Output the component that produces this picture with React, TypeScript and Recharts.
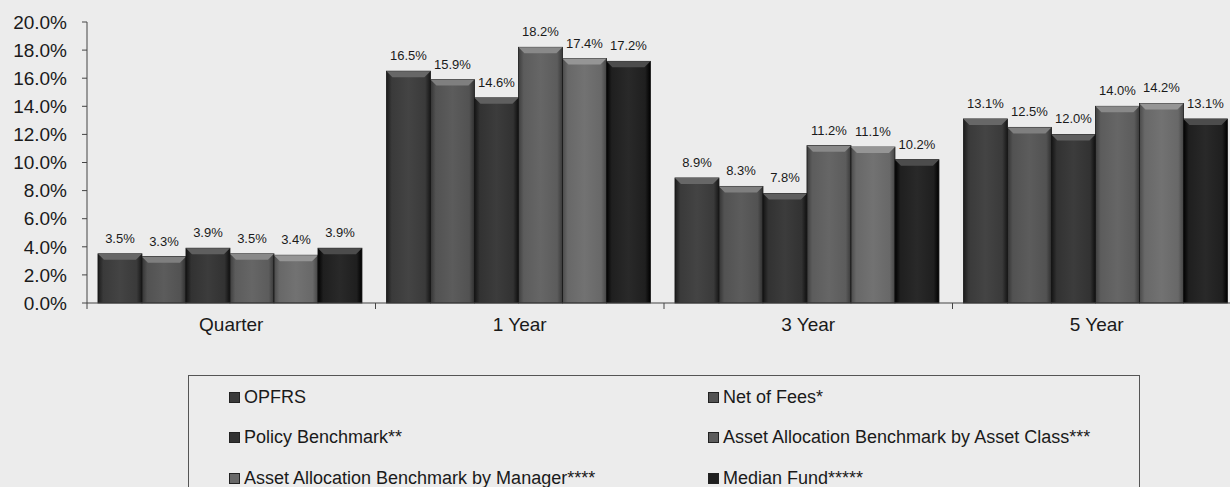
import React from 'react';
import { BarChart, Bar, XAxis, YAxis, LabelList } from 'recharts';

const categories = ['Quarter', '1 Year', '3 Year', '5 Year'];
const seriesNames = [
  'OPFRS',
  'Net of Fees*',
  'Policy Benchmark**',
  'Asset Allocation Benchmark by Asset Class***',
  'Asset Allocation Benchmark by Manager****',
  'Median Fund*****',
];
const opfrs = [3.5, 16.5, 8.9, 13.1];
const netOfFees = [3.3, 15.9, 8.3, 12.5];
const policyBenchmark = [3.9, 14.6, 7.8, 12.0];
const assetClassBenchmark = [3.5, 18.2, 11.2, 14.0];
const managerBenchmark = [3.4, 17.4, 11.1, 14.2];
const medianFund = [3.9, 17.2, 10.2, 13.1];
const yTicks = [0, 2, 4, 6, 8, 10, 12, 14, 16, 18, 20];

const seriesValues = [opfrs, netOfFees, policyBenchmark, assetClassBenchmark, managerBenchmark, medianFund];
const seriesKeys = ['s0', 's1', 's2', 's3', 's4', 's5'];
const colors = ['#3a3a3a', '#525252', '#323232', '#5c5c5c', '#686868', '#1f1f1f'];

const data = categories.map((c, i) => {
  const row: any = { name: c };
  seriesKeys.forEach((k, j) => (row[k] = seriesValues[j][i]));
  return row;
});

const FONT = '"Liberation Sans", Arial, sans-serif';

function shade(hex: string, amt: number) {
  const n = parseInt(hex.slice(1), 16);
  const r = Math.max(0, Math.min(255, ((n >> 16) & 255) + amt));
  const g = Math.max(0, Math.min(255, ((n >> 8) & 255) + amt));
  const b = Math.max(0, Math.min(255, (n & 255) + amt));
  return `rgb(${r},${g},${b})`;
}

const makeShape = (si: number) => (props: any) => {
  const { x, y, width, height, index } = props;
  if (!height || height <= 0) return null;
  const base = colors[si];
  const id = `grad-${si}-${index}`;
  const b = Math.min(6, height / 2);
  return (
    <g>
      <defs>
        <linearGradient id={id} x1="0" y1="0" x2="1" y2="0">
          <stop offset="0%" stopColor={shade(base, -30)} />
          <stop offset="12%" stopColor={base} />
          <stop offset="50%" stopColor={shade(base, 10)} />
          <stop offset="88%" stopColor={base} />
          <stop offset="100%" stopColor={shade(base, -35)} />
        </linearGradient>
      </defs>
      <rect x={x} y={y} width={width} height={height} fill={`url(#${id})`} stroke="#151515" strokeWidth={0.8} />
      <polygon
        points={`${x},${y} ${x + width},${y} ${x + width - b},${y + b} ${x + b},${y + b}`}
        fill={shade(base, 45)}
      />
    </g>
  );
};

const XTick = (props: any) => {
  const { x, y, payload, width } = props;
  const off = payload && payload.offset ? payload.offset : (width || 1154) / (2 * categories.length);
  const isLast = payload && payload.index === categories.length - 1;
  return (
    <g>
      <line x1={x - off} x2={x - off} y1={y} y2={y + 6} stroke="#444" strokeWidth={1} />
      {isLast ? <line x1={x + off} x2={x + off} y1={y} y2={y + 6} stroke="#444" strokeWidth={1} /> : null}
      <text x={x} y={y + 15} dy="0.71em" textAnchor="middle" fill="#1a1a1a" fontSize={19} fontFamily={FONT}>
        {payload.value}
      </text>
    </g>
  );
};

const fmtPct = (v: any) => `${Number(v).toFixed(1)}%`;

export default function App() {
  return (
    <div
      style={{
        position: 'absolute',
        left: 0,
        top: 0,
        width: 1230,
        height: 487,
        overflow: 'hidden',
        background: '#ececec',
        fontFamily: FONT,
      }}
    >
      <BarChart
        width={1244}
        height={487}
        data={data}
        margin={{ top: 22, right: 3, left: 0, bottom: 154 }}
        barCategoryGap="3.8%"
        barGap={0}
      >
        <XAxis
          dataKey="name"
          height={30}
          axisLine={{ stroke: '#444', strokeWidth: 1 }}
          tickLine={false}
          tickSize={0}
          tickMargin={0}
          tick={<XTick />}
          interval={0}
        />
        <YAxis
          width={87}
          domain={[0, 20]}
          ticks={yTicks}
          interval={0}
          tickFormatter={fmtPct}
          axisLine={{ stroke: '#444', strokeWidth: 1 }}
          tickLine={{ stroke: '#444' }}
          tickSize={5}
          tickMargin={15}
          tick={{ fill: '#1a1a1a', fontSize: 19, fontFamily: FONT }}
        />
        {seriesKeys.map((k, si) => (
          <Bar key={k} dataKey={k} name={seriesNames[si]} fill={colors[si]} isAnimationActive={false} shape={makeShape(si)}>
            <LabelList
              dataKey={k}
              position="top"
              offset={11}
              formatter={fmtPct}
              style={{ fill: '#1a1a1a', fontSize: 13, fontFamily: FONT }}
            />
          </Bar>
        ))}
      </BarChart>
      <div
        style={{
          position: 'absolute',
          left: 188,
          top: 375,
          width: 952,
          height: 140,
          border: '1px solid #555',
          boxSizing: 'border-box',
        }}
      >
        {seriesNames.map((n, i) => {
          const col = i % 2;
          const row = Math.floor(i / 2);
          return (
            <div
              key={n}
              style={{
                position: 'absolute',
                left: col === 0 ? 40 : 519,
                top: 21 + row * 40.5 - 11,
                height: 22,
                display: 'flex',
                alignItems: 'center',
                whiteSpace: 'nowrap',
                fontSize: 18,
                color: '#1a1a1a',
                fontFamily: FONT,
              }}
            >
              <span
                style={{
                  display: 'inline-block',
                  width: 9,
                  height: 9,
                  background: colors[i],
                  border: '1px solid #222',
                  marginRight: 4,
                }}
              />
              {n}
            </div>
          );
        })}
      </div>
    </div>
  );
}
